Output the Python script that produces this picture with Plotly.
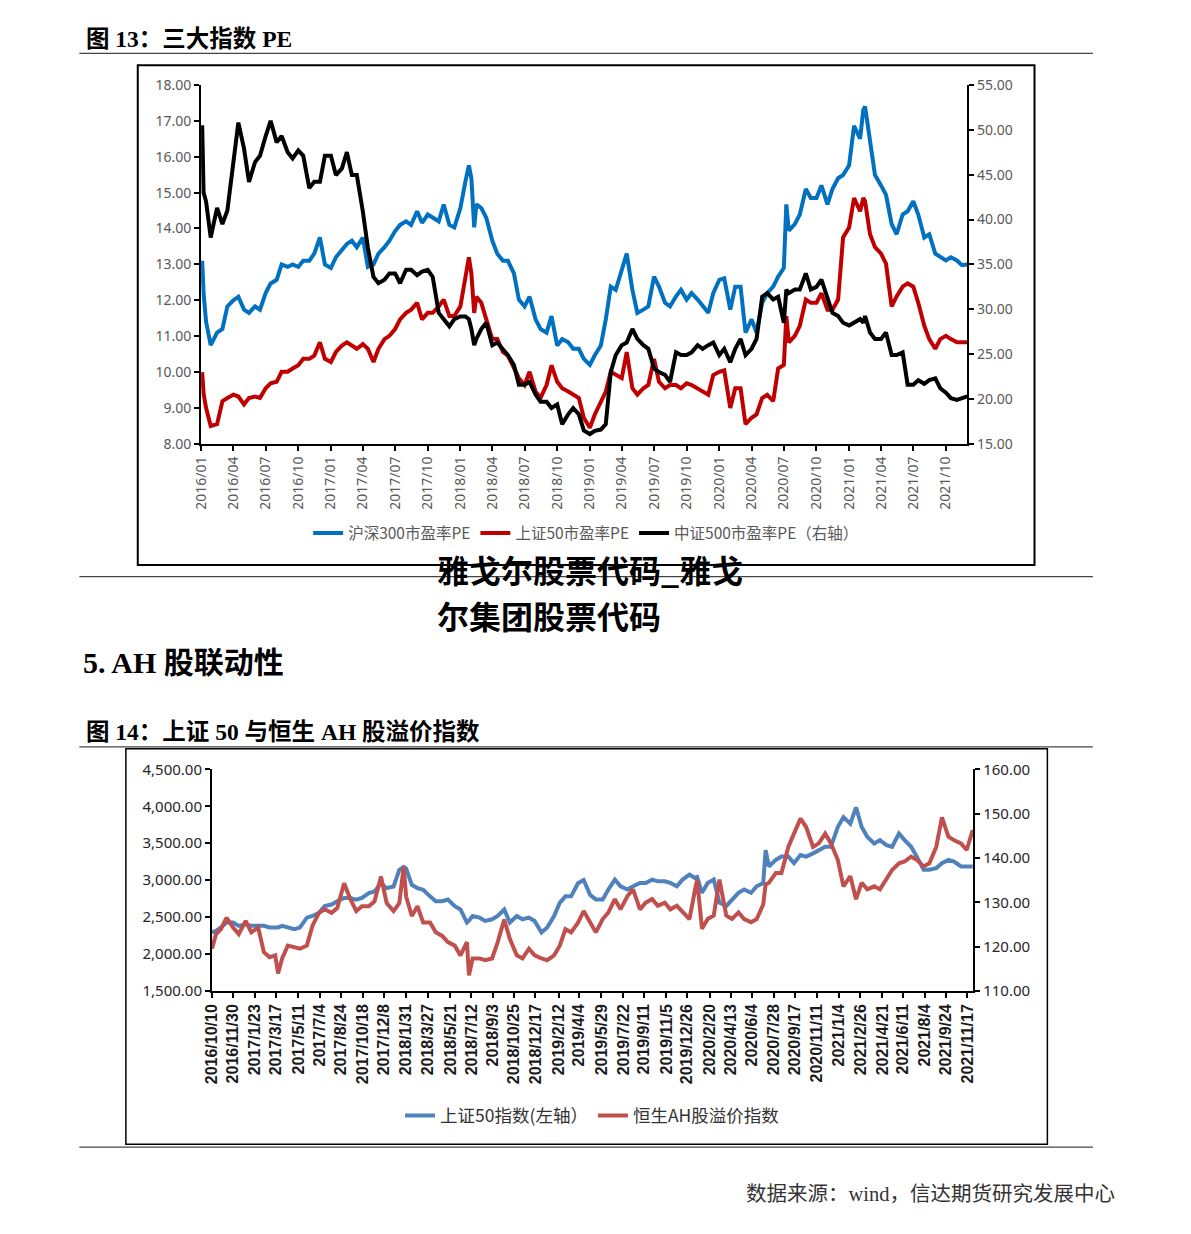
import plotly.graph_objects as go

# page size; the html body keeps its default 8px margin, so the figure is 16px smaller
PAGE_W, PAGE_H = 1191, 1234
M = 8
W, H = PAGE_W - 2 * M, PAGE_H - 2 * M

# ---------------- 图13: 三大指数 PE ----------------
pe_dates = [
    "2016-01-04", "2016-01-08", "2016-01-15", "2016-01-28", "2016-02-15", "2016-03-01", "2016-03-15",
    "2016-04-01", "2016-04-15", "2016-05-01", "2016-05-15", "2016-06-01", "2016-06-15", "2016-07-01",
    "2016-07-15", "2016-08-01", "2016-08-15", "2016-09-01", "2016-09-15", "2016-10-01", "2016-10-15",
    "2016-11-01", "2016-11-15", "2016-12-01", "2016-12-15",
    "2017-01-01", "2017-01-15", "2017-02-01", "2017-02-15", "2017-03-01", "2017-03-15", "2017-04-01",
    "2017-04-15", "2017-05-01", "2017-05-15", "2017-06-01", "2017-06-15", "2017-07-01", "2017-07-15",
    "2017-08-01", "2017-08-15", "2017-09-01", "2017-09-15", "2017-10-01", "2017-10-15", "2017-11-01",
    "2017-11-15", "2017-12-01", "2017-12-15",
    "2018-01-01", "2018-01-15", "2018-01-25", "2018-02-01", "2018-02-09", "2018-02-15", "2018-03-01",
    "2018-03-15", "2018-04-01", "2018-04-15", "2018-05-01", "2018-05-15", "2018-06-01", "2018-06-15",
    "2018-07-01", "2018-07-15", "2018-08-01", "2018-08-15", "2018-09-01", "2018-09-15", "2018-10-01",
    "2018-10-15", "2018-11-01", "2018-11-15", "2018-12-01", "2018-12-15",
    "2019-01-01", "2019-01-15", "2019-02-01", "2019-02-15", "2019-03-01", "2019-03-15", "2019-04-01",
    "2019-04-15", "2019-05-01", "2019-05-15", "2019-06-01", "2019-06-15", "2019-07-01", "2019-07-15",
    "2019-08-01", "2019-08-15", "2019-09-01", "2019-09-15", "2019-10-01", "2019-10-15", "2019-11-01",
    "2019-11-15", "2019-12-01", "2019-12-15",
    "2020-01-01", "2020-01-15", "2020-02-01", "2020-02-15", "2020-03-01", "2020-03-15", "2020-04-01",
    "2020-04-15", "2020-05-01", "2020-05-15", "2020-06-01", "2020-06-15", "2020-07-01", "2020-07-08",
    "2020-07-15", "2020-08-01", "2020-08-15", "2020-09-01", "2020-09-15", "2020-10-01", "2020-10-15",
    "2020-11-01", "2020-11-15", "2020-12-01", "2020-12-15",
    "2021-01-01", "2021-01-15", "2021-02-01", "2021-02-10", "2021-02-15", "2021-03-01", "2021-03-15",
    "2021-04-01", "2021-04-15", "2021-05-01", "2021-05-15", "2021-06-01", "2021-06-15", "2021-07-01",
    "2021-07-15", "2021-08-01", "2021-08-15", "2021-09-01", "2021-09-15", "2021-10-01", "2021-10-15",
    "2021-11-01", "2021-11-15", "2021-11-30",
]
hs300_pe = [
    13.1, 12.2, 11.4, 10.75, 11.1, 11.2, 11.83, 12.0, 12.1, 11.74, 11.65, 11.83, 11.74, 12.2, 12.47, 12.57,
    13.0, 12.93, 13.0, 12.93, 13.1, 13.1, 13.3, 13.75, 13.0,
    12.9, 13.2, 13.39, 13.57, 13.66, 13.48, 13.75, 12.93, 13.0, 13.3, 13.48, 13.66, 13.93, 14.1, 14.2, 14.1,
    14.48, 14.16, 14.39, 14.3, 14.2, 14.67, 14.1, 14.03,
    14.57, 15.3, 15.76, 15.4, 14.03, 14.67, 14.57, 14.3, 13.66, 13.3, 13.1, 13.1, 12.75, 12.02, 11.83, 12.1,
    11.47, 11.2, 11.1, 11.56, 10.74, 10.92, 10.83, 10.65, 10.65, 10.37,
    10.2, 10.47, 10.74, 11.47, 12.38, 12.29, 12.84, 13.3, 12.29, 11.65, 11.74, 11.83, 12.66, 12.38, 11.93,
    11.83, 12.11, 12.29, 12.02, 12.2, 12.02, 11.83, 11.65, 12.2,
    12.57, 12.61, 11.74, 12.38, 12.38, 11.1, 11.47, 11.1, 11.93, 12.2, 12.38, 12.66, 12.9, 14.67, 13.94,
    14.12, 14.39, 15.1, 14.85, 14.85, 15.2, 14.67, 15.1, 15.4, 15.49,
    15.76, 16.86, 16.5, 17.3, 17.4, 16.5, 15.49, 15.2, 14.94, 14.12, 13.84, 14.39, 14.48, 14.76, 14.39,
    13.75, 13.84, 13.3, 13.2, 13.11, 13.2, 13.11, 12.98, 13.0,
]
sz50_pe = [
    10.0, 9.4, 9.0, 8.5, 8.55, 9.19, 9.28, 9.37, 9.32, 9.1, 9.28, 9.32, 9.28, 9.55, 9.69, 9.73, 10.01,
    10.01, 10.1, 10.19, 10.37, 10.37, 10.46, 10.83, 10.37,
    10.28, 10.56, 10.74, 10.83, 10.74, 10.65, 10.78, 10.65, 10.28, 10.65, 10.92, 11.01, 11.2, 11.47, 11.65,
    11.74, 11.93, 11.47, 11.65, 11.65, 11.83, 12.02, 11.56, 11.56,
    11.83, 12.66, 13.2, 12.75, 11.65, 12.1, 11.93, 11.47, 10.92, 10.92, 10.56, 10.46, 10.1, 9.83, 9.64,
    10.01, 9.46, 9.28, 9.64, 10.19, 9.73, 9.55, 9.46, 9.37, 9.28, 8.73,
    8.45, 8.82, 9.19, 9.46, 10.01, 9.92, 9.83, 10.56, 9.55, 9.37, 9.55, 9.64, 10.37, 9.73, 9.55, 9.64,
    9.64, 9.55, 9.69, 9.64, 9.55, 9.46, 9.37, 9.92,
    10.01, 10.05, 9.0, 9.55, 9.55, 8.55, 8.73, 8.82, 9.28, 9.37, 9.19, 10.1, 10.2, 11.56, 10.83, 11.01,
    11.29, 12.02, 11.93, 11.93, 12.2, 11.74, 11.74, 12.02, 13.75,
    14.03, 14.85, 14.48, 14.85, 14.76, 13.84, 13.48, 13.3, 13.02, 11.83, 12.11, 12.38, 12.47, 12.38, 11.93,
    11.29, 10.92, 10.65, 10.92, 11.01, 10.92, 10.83, 10.83, 10.83,
]
zz500_pe = [
    50.5, 43.0, 42.0, 38.0, 41.3, 39.5, 41.0, 46.8, 50.8, 47.9, 44.2, 46.4, 47.1, 49.3, 51.0, 48.6, 49.3,
    47.5, 46.8, 47.7, 47.1, 43.5, 44.2, 44.2, 47.1,
    47.1, 44.95, 45.7, 47.5, 44.95, 44.95, 40.9, 36.9, 33.6, 32.9, 33.3, 34.0, 34.0, 32.9, 34.4, 34.4,
    33.8, 34.2, 34.4, 33.6, 29.6, 28.9, 28.1, 28.9,
    29.2, 29.2, 28.9, 27.8, 26.0, 26.7, 27.8, 28.5, 26.0, 26.3, 25.6, 24.9, 23.8, 21.6, 21.6, 21.9, 20.5,
    19.7, 19.7, 19.0, 19.4, 17.2, 18.3, 19.0, 18.3, 16.5,
    16.1, 16.46, 16.6, 17.2, 23.0, 24.9, 26.0, 26.3, 27.8, 26.7, 26.0, 25.6, 23.4, 23.0, 22.7, 21.9, 25.2,
    24.9, 24.9, 25.2, 26.0, 25.6, 26.0, 26.3,
    24.9, 25.6, 24.1, 25.6, 26.7, 24.9, 25.6, 26.7, 31.4, 31.8, 31.1, 31.4, 28.5, 32.2, 31.8, 32.2, 32.2,
    34.0, 32.2, 32.5, 33.3, 31.1, 29.6, 29.25, 28.5,
    28.2, 28.5, 28.9, 28.5, 29.25, 27.4, 26.7, 26.7, 27.4, 24.9, 24.9, 25.2, 21.6, 21.6, 22.1, 21.7, 22.1,
    22.3, 21.2, 20.7, 20.1, 19.9, 20.1, 20.3,
]
pe_ticktext = [
    "2016/01", "2016/04", "2016/07", "2016/10", "2017/01", "2017/04", "2017/07", "2017/10",
    "2018/01", "2018/04", "2018/07", "2018/10", "2019/01", "2019/04", "2019/07", "2019/10",
    "2020/01", "2020/04", "2020/07", "2020/10", "2021/01", "2021/04", "2021/07", "2021/10",
]

# ---------------- 图14: 上证50 与恒生AH股溢价指数 ----------------
ah_dates = [
    "2016-10-10", "2016-10-20", "2016-11-01", "2016-11-15", "2016-12-01", "2016-12-15",
    "2017-01-01", "2017-01-15", "2017-02-01", "2017-02-15", "2017-03-01", "2017-03-15", "2017-03-22",
    "2017-04-01", "2017-04-15", "2017-05-01", "2017-05-15", "2017-06-01", "2017-06-15", "2017-07-01",
    "2017-07-15", "2017-08-01", "2017-08-15", "2017-09-01", "2017-09-15", "2017-10-01", "2017-10-15",
    "2017-11-01", "2017-11-15", "2017-12-01", "2017-12-15",
    "2018-01-01", "2018-01-15", "2018-01-26", "2018-02-01", "2018-02-15", "2018-03-01", "2018-03-15",
    "2018-04-01", "2018-04-15", "2018-05-01", "2018-05-15", "2018-06-01", "2018-06-15", "2018-07-01",
    "2018-07-06", "2018-07-15", "2018-08-01", "2018-08-15", "2018-09-01", "2018-09-15", "2018-10-01",
    "2018-10-15", "2018-11-01", "2018-11-15", "2018-12-01", "2018-12-15",
    "2019-01-01", "2019-01-15", "2019-02-01", "2019-02-15", "2019-03-01", "2019-03-15", "2019-04-01",
    "2019-04-15", "2019-05-01", "2019-05-15", "2019-06-01", "2019-06-15", "2019-07-01", "2019-07-15",
    "2019-08-01", "2019-08-15", "2019-09-01", "2019-09-15", "2019-10-01", "2019-10-15", "2019-11-01",
    "2019-11-15", "2019-12-01", "2019-12-15",
    "2020-01-01", "2020-01-15", "2020-01-20", "2020-02-01", "2020-02-15", "2020-03-01", "2020-03-15",
    "2020-04-01", "2020-04-15", "2020-05-01", "2020-05-15", "2020-06-01", "2020-06-15", "2020-07-01",
    "2020-07-07", "2020-07-15", "2020-08-01", "2020-08-15", "2020-09-01", "2020-09-15", "2020-10-01",
    "2020-10-15", "2020-11-01", "2020-11-15", "2020-12-01", "2020-12-15",
    "2021-01-01", "2021-01-15", "2021-02-01", "2021-02-15", "2021-03-01", "2021-03-15", "2021-04-01",
    "2021-04-15", "2021-05-01", "2021-05-15", "2021-06-01", "2021-06-15", "2021-07-01", "2021-07-15",
    "2021-08-01", "2021-08-15", "2021-09-01", "2021-09-15", "2021-10-01", "2021-10-15", "2021-11-01",
    "2021-11-15", "2021-11-30",
]
sz50_index = [
    2291, 2313, 2358, 2425, 2425, 2380,
    2402, 2380, 2380, 2380, 2358, 2358, 2358, 2380, 2358, 2336, 2358, 2491, 2514, 2558, 2647, 2669, 2714,
    2758, 2758, 2736, 2758, 2825, 2847, 2958, 2891,
    2914, 3136, 3180, 3158, 2936, 2891, 2869, 2780, 2714, 2714, 2736, 2647, 2602, 2425, 2450, 2514, 2491,
    2447, 2469, 2514, 2602, 2425, 2514, 2469, 2491, 2447,
    2291, 2358, 2514, 2691, 2780, 2780, 2958, 3002, 2800, 2739, 2739, 2873, 3007, 2917, 2873, 2917, 2962,
    2962, 3007, 2984, 2984, 2962, 2917, 3007,
    3073, 3029, 3040, 2828, 2962, 3007, 2695, 2650, 2739, 2828, 2873, 2828, 2917, 2960, 3408, 3185, 3274,
    3319, 3319, 3230, 3341, 3319, 3363, 3408, 3452, 3452,
    3720, 3854, 3765, 3987, 3720, 3586, 3497, 3542, 3475, 3452, 3631, 3542, 3452, 3319, 3140, 3140, 3163,
    3230, 3274, 3252, 3185, 3185, 3185,
]
ah_premium = [
    119.5, 122.8, 123.9, 126.5, 124.3, 122.8,
    125.8, 123.2, 124.3, 118.7, 117.6, 118.0, 113.9, 117.3, 120.2, 119.8, 119.5, 120.2, 124.7, 127.6,
    128.4, 127.6, 128.7, 134.3, 131.0, 128.0, 129.1, 129.1, 130.2, 135.8, 129.8,
    128.0, 129.8, 138.0, 131.3, 126.9, 129.1, 125.4, 125.4, 123.2, 122.4, 121.0, 120.2, 118.0, 121.0,
    113.5, 117.3, 117.3, 116.9, 117.3, 121.0, 126.1, 121.7, 118.0, 117.3, 119.5, 118.0,
    117.3, 116.9, 118.0, 120.2, 123.9, 123.2, 125.4, 128.0, 125.5, 123.2, 126.2, 127.7, 130.7, 128.4,
    131.4, 132.9, 128.4, 129.9, 130.7, 129.2, 129.9, 128.4, 129.2, 127.7,
    126.2, 132.9, 135.1, 124.0, 126.2, 127.0, 135.1, 127.0, 126.2, 127.7, 126.2, 125.5, 126.2, 129.5,
    134.0, 134.4, 136.6, 136.6, 142.5, 145.5, 148.9, 147.0, 142.5, 143.3, 145.5, 143.3,
    139.6, 133.6, 135.9, 130.7, 134.4, 132.9, 133.6, 132.9, 135.1, 137.3, 138.8, 139.2, 140.3, 139.6,
    138.1, 138.8, 142.5, 149.2, 144.8, 144.0, 143.3, 141.8, 146.3,
]
ah_ticktext = [
    "2016/10/10", "2016/11/30", "2017/1/23", "2017/3/17", "2017/5/11", "2017/7/4", "2017/8/24",
    "2017/10/18", "2017/12/8", "2018/1/31", "2018/3/27", "2018/5/21", "2018/7/12", "2018/9/3",
    "2018/10/25", "2018/12/17", "2019/2/12", "2019/4/4", "2019/5/29", "2019/7/22", "2019/9/11",
    "2019/11/5", "2019/12/26", "2020/2/20", "2020/4/13", "2020/6/4", "2020/7/28", "2020/9/17",
    "2020/11/11", "2021/1/4", "2021/2/26", "2021/4/21", "2021/6/11", "2021/8/4", "2021/9/24",
    "2021/11/17",
]


def to_iso(label):
    parts = [int(p) for p in label.split("/")]
    if len(parts) == 2:
        parts.append(1)
    return "%04d-%02d-%02d" % tuple(parts)


# page pixel -> paper coords
def px(x):
    return (x - M) / W


def py(y):
    return 1 - (y - M) / H


SERIF = "Liberation Serif, Noto Sans CJK SC"
CJK = "Noto Sans CJK SC"

fig = go.Figure()

fig.add_trace(go.Scatter(x=pe_dates, y=hs300_pe, xaxis="x", yaxis="y", mode="lines",
                         line=dict(color="#0070C0", width=4), name="沪深300市盈率PE", legend="legend"))
fig.add_trace(go.Scatter(x=pe_dates, y=sz50_pe, xaxis="x", yaxis="y", mode="lines",
                         line=dict(color="#C00000", width=4), name="上证50市盈率PE", legend="legend"))
fig.add_trace(go.Scatter(x=pe_dates, y=zz500_pe, xaxis="x", yaxis="y2", mode="lines",
                         line=dict(color="#000000", width=4), name="中证500市盈率PE（右轴）", legend="legend"))

fig.add_trace(go.Scatter(x=ah_dates, y=sz50_index, xaxis="x2", yaxis="y3", mode="lines",
                         line=dict(color="#4F81BD", width=4), name="上证50指数(左轴）", legend="legend2"))
fig.add_trace(go.Scatter(x=ah_dates, y=ah_premium, xaxis="x2", yaxis="y4", mode="lines",
                         line=dict(color="#C0504D", width=4), name="恒生AH股溢价指数", legend="legend2"))

axis_common = dict(showline=True, linecolor="black", linewidth=2, ticks="outside", ticklen=5,
                   tickcolor="black", tickwidth=1.5, showgrid=False, zeroline=False)
gray_font = dict(family="Noto Sans", size=14, color="#595959")
dark_font = dict(family="Noto Sans", size=15, color="#262626")

fig.update_layout(
    width=W, height=H,
    margin=dict(l=0, r=0, t=0, b=0),
    paper_bgcolor="white", plot_bgcolor="white",
    xaxis=dict(domain=[px(193), px(967)], anchor="y", type="date",
               range=["2016-01-01", "2021-11-30"],
               tickvals=[to_iso(t) for t in pe_ticktext], ticktext=pe_ticktext,
               tickangle=-90, tickfont=dict(family="Noto Sans", size=14, color="#595959"),
               **axis_common),
    yaxis=dict(domain=[py(440), py(75)], anchor="x", range=[8, 18], dtick=1, tickformat=".2f",
               tickfont=gray_font, **axis_common),
    yaxis2=dict(overlaying="y", anchor="x", side="right", range=[15, 55], dtick=5,
                tickformat=".2f", tickfont=gray_font, **axis_common),
    xaxis2=dict(domain=[px(204), px(973)], anchor="y3", type="date",
                range=["2016-10-10", "2021-12-01"],
                tickvals=[to_iso(t) for t in ah_ticktext], ticktext=ah_ticktext,
                tickangle=-90,
                tickfont=dict(family="Liberation Sans", size=16, color="#1a1a1a", weight="bold"),
                **axis_common),
    yaxis3=dict(domain=[py(996), py(771)], anchor="x2", range=[1500, 4500], dtick=500,
                tickformat=",.2f", tickfont=dark_font, **axis_common),
    yaxis4=dict(overlaying="y3", anchor="x2", side="right", range=[110, 160], dtick=10,
                tickformat=".2f", tickfont=dark_font, **axis_common),
    legend=dict(orientation="h", x=px(582), xanchor="center", y=py(531), yanchor="middle",
                font=dict(family=CJK, size=15.5, color="#595959"), bgcolor="rgba(0,0,0,0)"),
    legend2=dict(orientation="h", x=px(588), xanchor="center", y=py(1123), yanchor="middle",
                 font=dict(family=CJK, size=17.5, color="#333333"), bgcolor="rgba(0,0,0,0)"),
    showlegend=True,
)

# frames and rules
shapes = [
    dict(type="rect", x0=px(129), x1=px(1035), y0=py(563), y1=py(55), line=dict(color="black", width=2)),
    dict(type="rect", x0=px(117), x1=px(1048), y0=py(1152), y1=py(750), line=dict(color="black", width=1.5)),
]
for yy in [43, 575, 748, 1155]:
    shapes.append(dict(type="line", x0=px(70), x1=px(1094), y0=py(yy), y1=py(yy),
                       line=dict(color="#444444", width=1.2)))
for s in shapes:
    s.update(xref="paper", yref="paper")
fig.update_layout(shapes=shapes)

texts = [
    ("图 13：三大指数 PE", 75, 28, dict(family=SERIF, size=23.5, color="black", weight="bold")),
    ("5. AH 股联动性", 72, 662, dict(family=SERIF, size=30, color="black", weight="bold")),
    ("图 14：上证 50 与恒生 AH 股溢价指数", 75, 733, dict(family=SERIF, size=23.5, color="black", weight="bold")),
    ("雅戈尔股票代码_雅戈", 429, 567, dict(family=CJK, size=32, color="black", weight="bold")),
    ("尔集团股票代码", 429, 614, dict(family=CJK, size=32, color="black", weight="bold")),
]
for txt, x0, y0, font in texts:
    fig.add_annotation(text=txt, x=px(x0), y=py(y0), xref="paper", yref="paper", align="left",
                       xanchor="left", yanchor="middle", showarrow=False, font=font)
fig.add_annotation(text="数据来源：wind，信达期货研究发展中心", x=px(1118), y=py(1203),
                   xref="paper", yref="paper", xanchor="right", yanchor="middle", showarrow=False,
                   font=dict(family=SERIF, size=20.5, color="#333333"))

fig.write_html("out.html", config={"displayModeBar": False})
